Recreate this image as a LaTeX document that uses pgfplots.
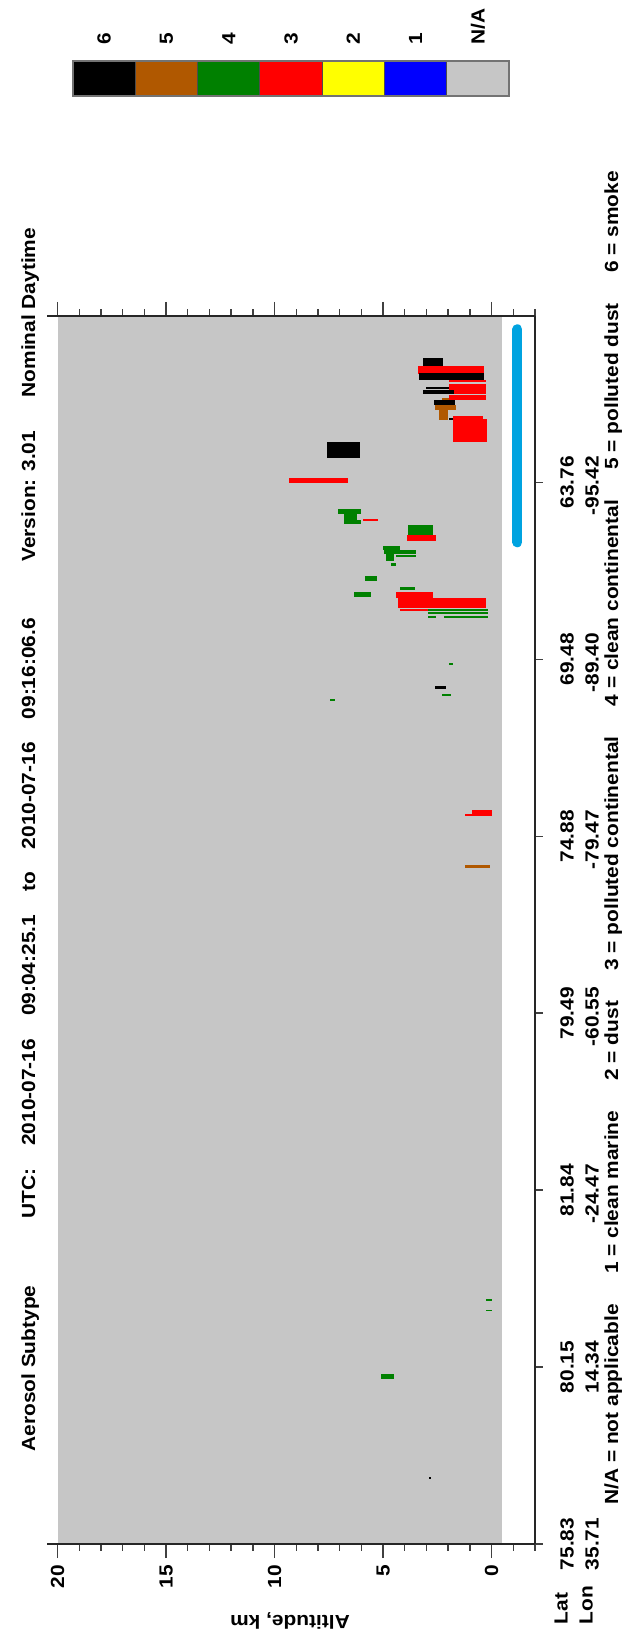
\documentclass[border=0pt]{standalone}
\usepackage{graphicx}
\usepackage{pgfplots}
\pgfplotsset{compat=1.18}
\usepackage{fontspec}
\setmainfont{Liberation Sans}
\definecolor{naGray}{RGB}{198,198,198}
\definecolor{cbBrown}{RGB}{176,88,0}
\definecolor{cbGreen}{RGB}{0,128,0}
\definecolor{cbRed}{RGB}{255,0,0}
\definecolor{cbYellow}{RGB}{255,255,0}
\definecolor{cbBlue}{RGB}{0,0,255}
\definecolor{surfBlue}{RGB}{0,163,224}
\newcommand\tfont{\bfseries\fontsize{9.5}{12.5}\selectfont}
\newcommand\st[1]{\scalebox{1.1}[1]{#1}}
\newcommand\lab[2]{\begin{tabular}{@{}r@{}}\st{#1}\\\llap{\st{#2}}\end{tabular}}
\newcommand\R[5]{\addplot[fill=#1, draw=none, forget plot] coordinates {(#2,#4) (#3,#4) (#3,#5) (#2,#5)};}
\begin{document}
\begin{tikzpicture}
\useasboundingbox (0,0) rectangle (312.5pt,818.5pt);
\begin{axis}[
  at={(23.35pt,46.5pt)}, anchor=south west,
  scale only axis, width=244.15pt, height=614pt,
  xmin=-2, xmax=20.5, ymin=0, ymax=6.94,
  x dir=reverse,
  axis x line*=box, axis y line*=right,
  no markers,
  tick align=outside,
  xtick={0,5,10,15,20},
  xticklabels={\st{0},\st{5},\st{10},\st{15},\st{20}},
  minor xtick={-2,-1,1,2,3,4,6,7,8,9,11,12,13,14,16,17,18,19},
  ytick={0,1,2,3,4,5,6},
  yticklabels={{\lab{75.83}{35.71}},{\lab{80.15}{14.34}},{\lab{81.84}{-24.47}},{\lab{79.49}{-60.55}},{\lab{74.88}{-79.47}},{\lab{69.48}{-89.40}},{\lab{63.76}{-95.42}}},
  major tick length=7pt, minor tick length=3.35pt,
  ytick style={/pgfplots/major tick length=4pt},
  tick style={black!75, line width=0.7pt},
  axis line style={black!85, line width=0.7pt},
  xticklabel style={rotate=90, anchor=east, font=\tfont},
  yticklabel style={rotate=90, anchor=north, font=\tfont},
  /pgf/number format/assume math mode=true,
  axis on top,
]
\addplot[fill=naGray, draw=none, forget plot] coordinates {(-0.5,0) (20,0) (20,6.94) (-0.5,6.94)};
\R{black}{2.26}{3.15}{6.66}{6.70}
\R{cbRed}{0.34}{3.41}{6.614}{6.657}
\R{black}{0.34}{3.34}{6.58}{6.62}
\R{cbRed}{0.26}{1.95}{6.565}{6.58}
\R{black}{1.95}{3.03}{6.53}{6.54}
\R{cbRed}{0.26}{1.95}{6.50}{6.557}
\R{black}{1.72}{3.15}{6.50}{6.52}
\R{cbRed}{0.26}{1.95}{6.467}{6.493}
\R{cbBrown}{1.95}{2.29}{6.465}{6.475}
\R{black}{1.69}{2.66}{6.435}{6.467}
\R{cbBrown}{1.64}{2.60}{6.41}{6.435}
\R{cbBrown}{2.03}{2.41}{6.35}{6.41}
\R{black}{1.65}{1.97}{6.355}{6.365}
\R{cbRed}{0.23}{1.77}{6.23}{6.36}
\R{cbRed}{0.40}{1.77}{6.36}{6.375}
\R{black}{6.06}{7.57}{6.14}{6.23}
\R{cbRed}{6.60}{9.35}{5.996}{6.024}
\R{cbGreen}{6.03}{7.06}{5.823}{5.851}
\R{cbGreen}{6.18}{6.80}{5.785}{5.823}
\R{cbGreen}{6.03}{6.80}{5.763}{5.785}
\R{cbRed}{5.23}{5.91}{5.78}{5.79}
\R{cbGreen}{2.69}{3.84}{5.70}{5.76}
\R{cbRed}{2.57}{3.92}{5.67}{5.70}
\R{cbGreen}{4.23}{5.00}{5.616}{5.642}
\R{cbGreen}{3.49}{4.95}{5.597}{5.616}
\R{cbGreen}{4.49}{4.87}{5.555}{5.597}
\R{cbGreen}{3.49}{4.40}{5.578}{5.588}
\R{cbGreen}{4.41}{4.64}{5.525}{5.544}
\R{cbGreen}{5.29}{5.84}{5.44}{5.47}
\R{cbGreen}{5.54}{6.32}{5.35}{5.38}
\R{cbGreen}{3.54}{4.21}{5.39}{5.41}
\R{cbRed}{2.72}{4.41}{5.348}{5.378}
\R{cbRed}{0.26}{4.29}{5.292}{5.348}
\R{cbRed}{2.90}{4.20}{5.27}{5.283}
\R{cbGreen}{0.18}{2.95}{5.275}{5.285}
\R{cbGreen}{0.18}{2.95}{5.258}{5.268}
\R{cbGreen}{0.18}{2.18}{5.232}{5.242}
\R{cbGreen}{2.56}{2.95}{5.232}{5.242}
\R{cbGreen}{1.80}{1.98}{4.97}{4.98}
\R{black}{2.10}{2.60}{4.83}{4.85}
\R{cbGreen}{1.85}{2.30}{4.795}{4.805}
\R{cbGreen}{7.21}{7.46}{4.765}{4.775}
\R{cbRed}{0}{0.88}{4.117}{4.147}
\R{cbRed}{0}{1.21}{4.113}{4.128}
\R{cbBrown}{0.06}{1.21}{3.82}{3.84}
\R{cbGreen}{0}{0.25}{1.375}{1.385}
\R{cbGreen}{0}{0.25}{1.315}{1.325}
\R{cbGreen}{4.50}{5.10}{0.93}{0.96}
\R{black}{2.80}{2.90}{0.37}{0.38}
\addplot[surfBlue, line width=5pt, line cap=round, forget plot] coordinates {(-1.19,5.661) (-1.19,6.865)};
\end{axis}
\begin{scope}[shift={(0pt,818.5pt)}, x=0.5pt, y=-0.5pt]
  % colour bar
  \foreach \c [count=\i from 0] in {black,cbBrown,cbGreen,cbRed,cbYellow,cbBlue,naGray}{
    \fill[\c] ({73+62.29*\i},61) rectangle ({73+62.29*(\i+1)},96);
    \draw[black!70, line width=0.5pt] ({73+62.29*\i},61) -- ({73+62.29*\i},96);
  }
  \draw[black!55, line width=0.9pt] (73,61) rectangle (509,96);
  \foreach \t [count=\i from 0] in {6,5,4,3,2,1,N/A}{
    \node[rotate=90, anchor=west, inner sep=0pt, font=\tfont] at ({73+62.29*(\i+0.5)},45) {\st{\t}};
  }
  % title
  \node[rotate=90, anchor=base west, inner sep=0pt, font=\tfont] at (35,1452)
    {\st{Aerosol Subtype\hspace{3.2em}UTC:\hspace{1.1em}2010-07-16\hspace{1.1em}09:04:25.1\hspace{1.1em}to\hspace{1.1em}2010-07-16\hspace{1.1em}09:16:06.6\hspace{2.7em}Version: 3.01\hspace{1.6em}Nominal Daytime}};
  % legend line
  \node[rotate=90, anchor=base west, inner sep=0pt, font=\tfont] at (618,1505)
    {\st{N/A = not applicable\hspace{1.45em}1 = clean marine\hspace{1.45em}2 = dust\hspace{1.45em}3 = polluted continental\hspace{1.45em}4 = clean continental\hspace{1.45em}5 = polluted dust\hspace{1.45em}6 = smoke}};
  % altitude label
  \node[rotate=180, anchor=center, inner sep=0pt, font=\tfont] at (290,1621) {\st{Altitude, km}};
  % Lat/Lon
  \node[rotate=90, anchor=north, font=\tfont] at (543,1605) {\begin{tabular}{@{}l@{}}\st{Lat}\\\st{Lon}\end{tabular}};
\end{scope}
\end{tikzpicture}
\end{document}
